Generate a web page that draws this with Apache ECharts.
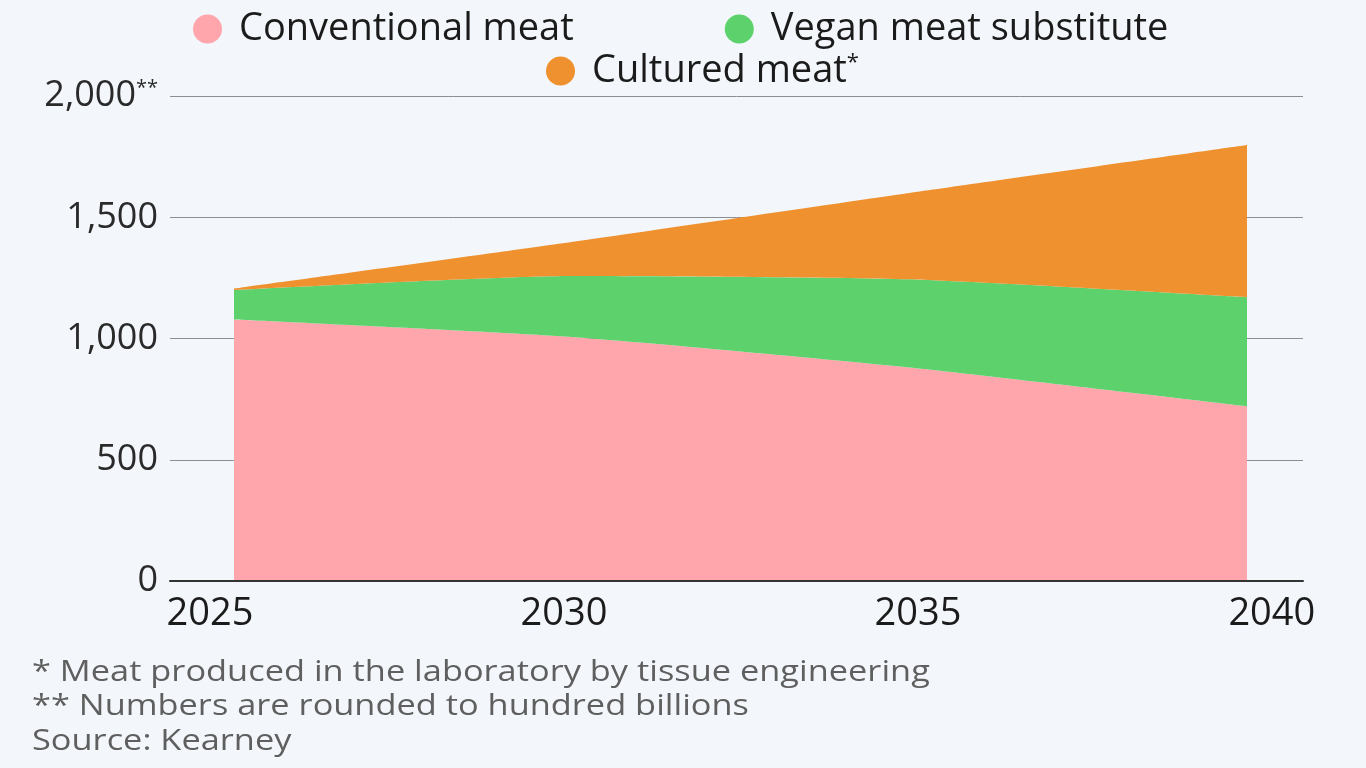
<!DOCTYPE html>
<html>
<head>
<meta charset="utf-8">
<script src="https://cdn.jsdelivr.net/npm/echarts@6/dist/echarts.min.js"></script>
<style>
html,body{margin:0;padding:0;background:#F3F7FB;}
#chart{width:1366px;height:768px;}
</style>
</head>
<body>
<div id="chart"></div>
<script>
// ---- data ----
var years = ['2025', '2030', '2035', '2040'];
var conventionalMeat = [1078, 1006, 880, 720];
var veganMeat = [122, 252, 364, 450];
var culturedMeat = [6, 140, 356, 628];
var seriesNames = ['Conventional meat', 'Vegan meat substitute', 'Cultured meat*'];
var yTicks = [0, 500, 1000, 1500, 2000];
var xTickLabels = [2025, 2030, 2035, 2040];
var footnotes = [
  '* Meat produced in the laboratory by tissue engineering',
  '** Numbers are rounded to hundred billions',
  'Source: Kearney'
];

var FONT = '"Open Sans", "Noto Sans", sans-serif';
var chart = echarts.init(document.getElementById('chart'), null, {renderer: 'canvas'});

function fmtNum(v) {
  return v.toLocaleString('en-US');
}

var legendText = {
  fontFamily: FONT, fontSize: 38, color: '#1b1b1b', padding: [0, 0, 0, 12],
  rich: {
    a: {fontFamily: FONT, fontSize: 38, color: '#1b1b1b'},
    s: {fontFamily: FONT, fontSize: 22, color: '#1b1b1b', verticalAlign: 'top', padding: [0, 0, 16, 0]}
  }
};
function legendFmt(name) {
  if (name.slice(-1) === '*') return '{a|' + name.slice(0, -1) + '}{s|*}';
  return name;
}

var option = {
  backgroundColor: '#F3F7FB',
  animation: false,
  legend: [
    {
      top: 5, left: 188, itemGap: 151,
      itemWidth: 29, itemHeight: 29, icon: 'circle',
      textStyle: legendText, formatter: legendFmt,
      data: [seriesNames[0], seriesNames[1]]
    },
    {
      top: 47, left: 541, itemGap: 138,
      itemWidth: 29, itemHeight: 29, icon: 'circle',
      textStyle: legendText, formatter: legendFmt,
      data: [seriesNames[2]]
    }
  ],
  grid: [
    {left: 170, right: 63, top: 96, bottom: 187, containLabel: false},
    {left: 234, right: 119, top: 96, bottom: 187, containLabel: false}
  ],
  xAxis: [
    {
      gridIndex: 0,
      type: 'value',
      min: 2024.435,
      max: 2040.44,
      z: 10,
      axisLine: {show: true, onZero: false, lineStyle: {color: '#333', width: 2}},
      axisTick: {show: false},
      splitLine: {show: false},
      axisLabel: {
        customValues: xTickLabels,
        formatter: function (v) { return String(v); },
        fontFamily: FONT, fontSize: 38, color: '#1b1b1b', margin: 14
      }
    },
    {
      gridIndex: 1,
      type: 'category',
      boundaryGap: false,
      data: years,
      show: false
    }
  ],
  yAxis: [
    {
      gridIndex: 0,
      type: 'value',
      min: 0, max: 2000, interval: 500,
      axisLine: {show: false},
      axisTick: {show: false},
      splitLine: {show: true, lineStyle: {color: '#8a8f95', width: 1}},
      axisLabel: {
        margin: 12,
        fontFamily: FONT, fontSize: 36, color: '#2a2a2a',
        formatter: function (v) {
          return v === yTicks[yTicks.length - 1] ? '{a|' + fmtNum(v) + '}{s|**}' : fmtNum(v);
        },
        rich: {
          a: {fontFamily: FONT, fontSize: 36, color: '#2a2a2a'},
          s: {fontFamily: FONT, fontSize: 20, color: '#2a2a2a', verticalAlign: 'top', padding: [0, 0, 15, 0]}
        }
      }
    },
    {
      gridIndex: 1,
      type: 'value',
      min: 0, max: 2000,
      show: false,
      splitLine: {show: false}
    }
  ],
  series: [
    {
      name: seriesNames[0], type: 'line', stack: 'total',
      xAxisIndex: 1, yAxisIndex: 1,
      data: conventionalMeat, smooth: 0.2, symbol: 'none',
      lineStyle: {width: 0}, areaStyle: {color: '#FFA6AD', opacity: 1},
      itemStyle: {color: '#FFA6AD'}
    },
    {
      name: seriesNames[1], type: 'line', stack: 'total',
      xAxisIndex: 1, yAxisIndex: 1,
      data: veganMeat, smooth: 0.2, symbol: 'none',
      lineStyle: {width: 0}, areaStyle: {color: '#5DD16B', opacity: 1},
      itemStyle: {color: '#5DD16B'}
    },
    {
      name: seriesNames[2], type: 'line', stack: 'total',
      xAxisIndex: 1, yAxisIndex: 1,
      data: culturedMeat, smooth: 0.2, symbol: 'none',
      lineStyle: {width: 0}, areaStyle: {color: '#EE912E', opacity: 1},
      itemStyle: {color: '#EE912E'}
    }
  ],
  graphic: footnotes.map(function (t, i) {
    return {
      type: 'text', left: 32, top: 658 + i * 34.5, scaleX: 1.185,
      style: {text: t, fontFamily: FONT, fontSize: 29, fill: '#5f5f5f'}
    };
  })
};
chart.setOption(option);
</script>
</body>
</html>
